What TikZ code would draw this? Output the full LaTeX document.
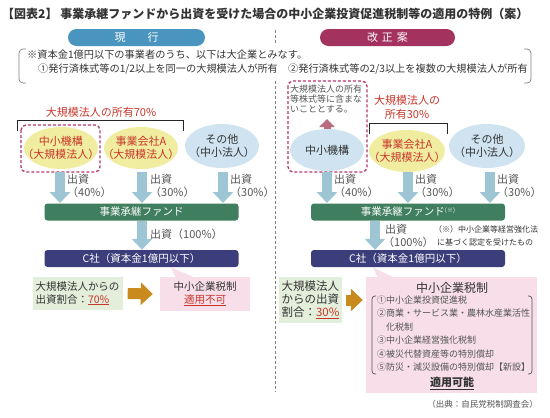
\documentclass[tikz,border=0pt]{standalone}
\usepackage{fontspec}
\setmainfont{Noto Sans CJK JP}
\usetikzlibrary{arrows.meta,shapes.geometric}
\definecolor{pillblue}{HTML}{4A95BF}
\definecolor{pillred}{HTML}{A3325F}
\definecolor{yell}{HTML}{F1EDA0}
\definecolor{lblue}{HTML}{CFE3F0}
\definecolor{redtxt}{HTML}{C8362A}
\definecolor{mag}{HTML}{B5356F}
\definecolor{arrowc}{HTML}{9DC5D3}
\definecolor{fundc}{HTML}{3F7E5E}
\definecolor{navy}{HTML}{3C3E7C}
\definecolor{lgreen}{HTML}{E3EEDB}
\definecolor{lpink}{HTML}{F7DEE8}
\definecolor{orng}{HTML}{C98A1E}
\definecolor{pinkarr}{HTML}{B96B80}
\definecolor{txt}{HTML}{333333}
\definecolor{gtxt}{HTML}{555555}
\definecolor{divc}{HTML}{808080}
\newcommand{\myfs}[2]{\fontsize{#1}{#2}\selectfont}
\begin{document}
\begin{tikzpicture}[x=1pt,y=-1pt,
  pill/.style={rounded corners=8.5pt, minimum height=17pt, text=white, font=\myfs{11}{12}, inner sep=0},
  ell/.style={ellipse, minimum width=74pt, minimum height=42pt, inner sep=0},
  elltext/.style={align=center, font=\myfs{11}{13}, inner sep=0},
  bigarrow/.style={line width=10pt, draw=arrowc, -{Triangle[width=20pt,length=11pt]}},
  bar/.style={rounded corners=3pt, minimum width=194pt, minimum height=17pt, text=white, font=\myfs{10.5}{12}, inner sep=0},
  lab/.style={align=left, font=\myfs{11}{12.5}, text=gtxt, inner sep=0, anchor=west},
  pdash/.style={draw=mag, line width=1.3pt, dash pattern=on 3pt off 2pt, rounded corners=5pt},
  brk/.style={draw=black!85, line width=1pt},
  gbrk/.style={draw=gray, line width=0.7pt, rounded corners=4pt},
  divider/.style={draw=divc, line width=1pt, dash pattern=on 3pt off 2pt},
  orangearrow/.style={line width=11pt, draw=orng, -{Triangle[width=22pt,length=12pt]}},
  redlab/.style={text=redtxt, font=\myfs{11}{14}, align=center, inner sep=0},
]
\useasboundingbox (0,0) rectangle (550,418);

% title
\node[anchor=west, inner sep=0, text=txt, font=\bfseries\myfs{12}{13}] (title) at (2,14)
  {【図表2】 事業承継ファンドから出資を受けた場合の中小企業投資促進税制等の適用の特例（案）};

% pills
\node[pill, fill=pillblue, minimum width=137pt] (genkou) at (136.5,37.5) {現　　行};
\node[pill, fill=pillred, minimum width=135pt] (kaisei) at (387.5,37.5) {改\hspace{4pt}正\hspace{4pt}案};

% divider
\draw[divider] (275.5,30) -- (275.5,45);
\draw[divider] (275.5,81) -- (275.5,392);

% note bracket box
\draw[gbrk] (26,49) -- (19,49) -- (19,83) -- (26,83);
\draw[gbrk] (524,49) -- (531,49) -- (531,83) -- (524,83);
\node[anchor=west, inner sep=0, text=txt, font=\myfs{10.2}{12}] (note1) at (27,55)
  {※資本金1億円以下の事業者のうち、以下は大企業とみなす。};
\node[anchor=west, inner sep=0, text=txt, font=\myfs{10.2}{12}] (note2) at (38,69)
  {①発行済株式等の1/2以上を同一の大規模法人が所有　②発行済株式等の2/3以上を複数の大規模法人が所有};

% ===== left (current) =====
\node[redlab] (own70) at (101,112) {大規模法人の所有70\%};
\draw[brk] (17,131) -- (17,120) -- (183,120) -- (183,131);
\draw[pdash] (21,125) rectangle (100,172);

\node[ell, fill=yell] (e1) at (61,148) {};
\node[elltext, text=redtxt] (e1t) at (e1.center) {中小機構\\（大規模法人）};
\node[ell, fill=yell] (e2) at (141,148) {};
\node[elltext, text=redtxt] (e2t) at (e2.center) {事業会社A\\（大規模法人）};
\node[ell, fill=lblue, minimum height=44pt] (e3) at (222,146) {};
\node[elltext, text=txt] (e3t) at (e3.center) {その他\\（中小法人）};

\node[bar, fill=fundc] (fundL) at (141.5,212) {事業承継ファンド};
\node[bar, fill=navy] (cL) at (141.5,258.5) {C社（資本金1億円以下）};

\draw[bigarrow] (60,172) -- (60,203);
\draw[bigarrow] (142,172) -- (142,203);
\draw[bigarrow] (223,172) -- (223,203);
\node[lab] (l1) at (67,186) {出資\\（40\%）};
\node[lab] (l2) at (150,186) {出資\\（30\%）};
\node[lab] (l3) at (230,186) {出資\\（30\%）};

\draw[bigarrow] (fundL.south -| 142,0) -- (cL.north -| 142,0);
\node[lab] (l4) at (150,234) {出資（100\%）};

\node[fill=lgreen, minimum width=90pt, minimum height=33pt, inner sep=0, align=left,
  text=txt, font=\myfs{10.5}{12.5}] (ratioL) at (77.5,293.5)
  {大規模法人からの\\出資割合：\textcolor{redtxt}{\underline{70\%}}};
\fill[lpink] (171,267.5) -- (176,278) -- (196,278) -- cycle;
\node[fill=lpink, minimum width=90pt, minimum height=34pt, inner sep=0, align=center,
  text=txt, font=\myfs{10.5}{12.5}] (pinkL) at (205,294)
  {中小企業税制\\\textcolor{redtxt}{\underline{適用不可}}};
\draw[orangearrow] ([xshift=5pt]ratioL.east) -- ([xshift=-7pt]pinkL.west);

% ===== right (revised) =====
\draw[pdash] (288,81) rectangle (367,172);
\node[anchor=north west, align=left, inner sep=0, text=gtxt, font=\myfs{9}{10}] (excl) at (290,85)
  {大規模法人の所有\\等株式等に含まな\\いこととする。};
\coordinate (exTip) at (327,119);
\draw[line width=7pt, draw=pinkarr, -{Triangle[width=15pt,length=8pt]}] (327,136) -- (exTip);

\node[ell, fill=lblue] (r1) at (327,150) {};
\node[elltext, text=txt] (r1t) at (r1.center) {中小機構};
\node[redlab] (own30) at (407,107) {大規模法人の\\所有30\%};
\draw[brk] (369,134) -- (369,123) -- (447,123) -- (447,134);
\node[ell, fill=yell, minimum width=76pt] (r2) at (407,151) {};
\node[elltext, text=redtxt] (r2t) at (r2.center) {事業会社A\\（大規模法人）};
\node[ell, fill=lblue, minimum width=76pt, minimum height=44pt] (r3) at (487,146) {};
\node[elltext, text=txt] (r3t) at (r3.center) {その他\\（中小法人）};

\node[bar, fill=fundc] (fundR) at (408,212) {事業承継ファンド\raisebox{3.5pt}{\myfs{6}{6}(※)}};
\node[bar, fill=navy] (cR) at (408,258.5) {C社（資本金1億円以下）};

\draw[bigarrow] (327,172) -- (327,203);
\draw[bigarrow] (408,172) -- (408,203);
\draw[bigarrow] (490,172) -- (490,203);
\node[lab] (m1) at (334,186) {出資\\（40\%）};
\node[lab] (m2) at (415,186) {出資\\（30\%）};
\node[lab] (m3) at (497,186) {出資\\（30\%）};

\draw[bigarrow] (fundR.south -| 375,0) -- (cR.north -| 375,0);
\node[lab] (m4) at (383,236) {\hspace{2pt}出資\\（100\%）};
\node[anchor=west, align=left, inner sep=0, text=txt, font=\myfs{8}{13.5}] (fnote) at (434,236)
  {（※）中小企業等経営強化法\\\hspace{3pt}に基づく認定を受けたもの};

\node[fill=lgreen, minimum width=63pt, minimum height=46pt, inner sep=0, align=left,
  text=txt, font=\myfs{11.5}{12.8}] (ratioR) at (310.5,300)
  {大規模法人\\からの出資\\割合：\textcolor{redtxt}{\underline{30\%}}};
\fill[lpink] (373,267.5) -- (378,278) -- (395,278) -- cycle;
\node[fill=lpink, minimum width=171pt, minimum height=116pt, inner sep=0] (pinkR) at (451.5,335) {};
\node[text=txt, inner sep=0, font=\myfs{12}{13}] (taxR) at (452,288) {中小企業税制};
\draw[gbrk, draw=gtxt, rounded corners=3pt] (376,296) -- (372,296) -- (372,374) -- (376,374);
\draw[gbrk, draw=gtxt, rounded corners=3pt] (528,296) -- (532,296) -- (532,374) -- (528,374);
\node[anchor=north west, align=left, inner sep=0, text=gtxt, font=\myfs{9}{13.5}] (listR) at (377,295.5)
  {①中小企業投資促進税\\②商業・サービス業・農林水産業活性\\\hspace{1em}化税制\\③中小企業経営強化税制\\④被災代替資産等の特別償却\\⑤防災・減災設備の特別償却【新設】};
\node[text=txt, inner sep=0, font=\bfseries\myfs{11}{13}] (okR) at (452,383) {\underline{適用可能}};
\draw[orangearrow] ([xshift=4pt]ratioR.east) -- ([xshift=-3pt]pinkR.west |- ratioR.east);

\node[anchor=east, inner sep=0, text=gtxt, font=\myfs{8.5}{10}] (src) at (538,404) {（出典：自民党税制調査会）};
\end{tikzpicture}
\end{document}
